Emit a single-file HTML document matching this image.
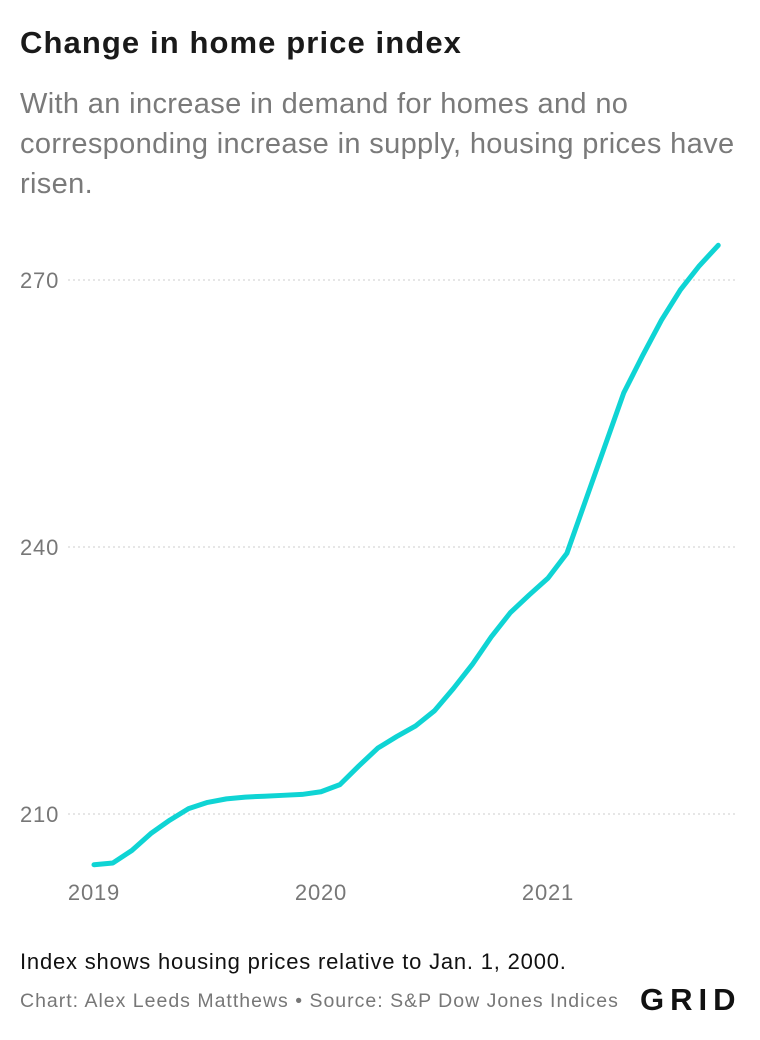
<!DOCTYPE html>
<html><head><meta charset="utf-8"><style>
body{margin:0;width:760px;height:1040px;background:#fff;font-family:"Liberation Sans",Arial,sans-serif;overflow:hidden;position:relative}
.t{position:absolute;left:20px;top:25px;font-size:31px;font-weight:bold;color:#1a1a1a;letter-spacing:1.1px;white-space:nowrap}
.s{position:absolute;left:20px;top:84px;font-size:29px;line-height:40px;color:#7a7a7a;letter-spacing:0.35px;white-space:nowrap}
.n{position:absolute;left:20px;top:949px;font-size:22px;color:#111;letter-spacing:0.8px;white-space:nowrap}
.c{position:absolute;left:20px;top:990px;font-size:19.5px;color:#777;letter-spacing:1px;white-space:nowrap}
.g{position:absolute;left:640px;top:982px;font-size:31px;font-weight:bold;letter-spacing:6px;color:#111}
svg{position:absolute;left:0;top:0}
</style></head><body>
<div class="t">Change in home price index</div>
<div class="s">With an increase in demand for homes and no<br>corresponding increase in supply, housing prices have<br>risen.</div>
<svg id="ch" width="760" height="940"></svg>
<div class="n">Index shows housing prices relative to Jan. 1, 2000.</div>
<div class="c">Chart: Alex Leeds Matthews • Source: S&amp;P Dow Jones Indices</div>
<div class="g">GRID</div>
<script>
const yTicks=[210,240,270];
const xTickLabels=["2019","2020","2021"];
const values=[204.3,204.5,205.9,207.8,209.3,210.6,211.3,211.7,211.9,212.0,212.1,212.2,212.5,213.3,215.4,217.4,218.7,219.9,221.6,224.1,226.8,229.9,232.6,234.6,236.5,239.3,245.3,251.3,257.3,261.5,265.5,268.9,271.6,273.9];
const ns="http://www.w3.org/2000/svg";
const svg=document.getElementById('ch');
const y=v=>814-(v-210)*(267/30);
const x=i=>94+i*(227/12);
function mk(t,a){const e=document.createElementNS(ns,t);for(const k in a)e.setAttribute(k,a[k]);svg.appendChild(e);return e;}
yTicks.forEach(v=>{
 const l=mk('line',{x1:68,x2:735,y1:y(v),y2:y(v),stroke:'#ccc','stroke-width':1,'stroke-dasharray':'2,3'});
 
 
 const t=mk('text',{x:20,y:y(v)+8,'font-size':22,fill:'#777','letter-spacing':0.8,'font-family':'Liberation Sans, sans-serif'});
 t.textContent=v;
 
 
});
xTickLabels.forEach((s,i)=>{
 const t=mk('text',{x:x(i*12),y:900,'font-size':22,fill:'#777','text-anchor':'middle','letter-spacing':0.8,'font-family':'Liberation Sans, sans-serif'});
 t.textContent=s;
 
 
});
const p=mk('polyline',{points:values.map((v,i)=>x(i)+','+y(v)).join(' '),fill:'none',stroke:'#0fd4d4','stroke-width':5,'stroke-linejoin':'round','stroke-linecap':'round'});


</script>
</body></html>
